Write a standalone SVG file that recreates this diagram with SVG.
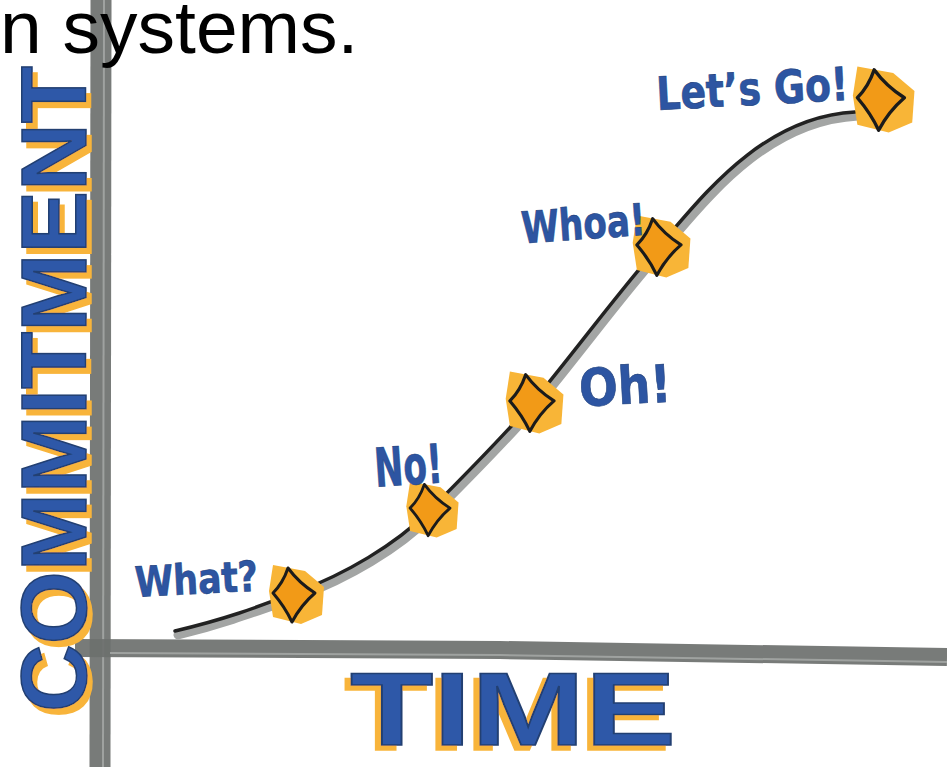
<svg xmlns="http://www.w3.org/2000/svg" width="947" height="767" viewBox="0 0 947 767">
<style>
.lbl{font-family:"DejaVu Sans Condensed","Liberation Sans",sans-serif;font-weight:bold;fill:#2D55A2;stroke:#24447f;stroke-width:0.6}
.big{font-family:"Liberation Sans","DejaVu Sans",sans-serif;font-weight:bold;fill:#2F59A8;stroke:#223f72;stroke-width:1.5;filter:url(#shadow)}
.axis{stroke:#6c706e;stroke-linecap:butt;fill:none}
.axhl{stroke:#a9acaa;stroke-width:2;fill:none;opacity:0.8}
</style>
<defs>
<filter id="shadow" x="-10%" y="-10%" width="120%" height="120%">
<feFlood flood-color="#F8B43A" result="f"/>
<feComposite in="f" in2="SourceAlpha" operator="in" result="o"/>
<feOffset in="o" dx="-6" dy="5" result="s"/>
<feMerge><feMergeNode in="s"/><feMergeNode in="SourceGraphic"/></feMerge>
</filter>
<g id="dm">
<path d="M-22,-30 L10,-24 L29,-8 L27,20 L6,29 L-22,22 L-26,-4 Z" fill="#F8B537"/>
<path d="M-7,-27 Q4,-12 20,-2 Q6,10 -3,27 Q-10,12 -22,-2 Q-12,-12 -7,-27 Z" fill="#F29A17" stroke="#1b1b1b" stroke-width="3" stroke-linejoin="round"/>
</g>
</defs>
<rect width="947" height="767" fill="#ffffff"/>

<g id="axes">
<path class="axis" d="M101,0 L100,767" stroke-width="21" opacity="0.92"/>
<path class="axhl" d="M104,0 L103,767"/>
<path class="axis" d="M75,648 L500,650 L947,657" stroke-width="18" opacity="0.92"/>
<path class="axhl" d="M110,653 L500,655 L947,662"/>
</g>

<g id="axis-labels">
<text id="commitment" class="big" font-size="92" textLength="646" lengthAdjust="spacingAndGlyphs" transform="translate(86,712) rotate(-90)">COMMITMENT</text>
<text id="time" class="big" x="350" y="745" font-size="104" textLength="326" lengthAdjust="spacingAndGlyphs">TIME</text>
</g>

<g id="connectors">
<path d="M178,635 C230,622 260,610 300,596 C348,578 398,549 431,516 C468,479 503,444 536,406 C583,349 623,294 663,249 C703,204 763,121 858,116" fill="none" stroke="#a3a5a4" stroke-width="9" stroke-linecap="round"/>
<path d="M175,631 C230,618 260,606 297,592 C345,574 395,545 428,512 C465,475 500,440 533,402 C580,345 620,290 660,245 C700,200 760,117 855,112" fill="none" stroke="#222" stroke-width="3.5" stroke-linecap="round"/>
</g>

<g id="node-what">
<use href="#dm" transform="translate(295,595)"/>
<text class="lbl" x="135" y="594" font-size="42" textLength="123" lengthAdjust="spacingAndGlyphs" transform="rotate(-3 195 580)">What?</text>
</g>
<g id="node-no">
<use href="#dm" transform="translate(431,510) scale(0.95)"/>
<text class="lbl" x="374" y="485" font-size="54" textLength="68" lengthAdjust="spacingAndGlyphs" transform="rotate(-4 405 460)">No!</text>
</g>
<g id="node-oh">
<use href="#dm" transform="translate(533,403) scale(1.05)"/>
<text class="lbl" x="579" y="404" font-size="52" textLength="92" lengthAdjust="spacingAndGlyphs" transform="rotate(-3 625 385)">Oh!</text>
</g>
<g id="node-whoa">
<use href="#dm" transform="translate(660,247) scale(1.05)"/>
<text class="lbl" x="521" y="239" font-size="44" textLength="124" lengthAdjust="spacingAndGlyphs" transform="rotate(-4 585 220)">Whoa!</text>
</g>
<g id="node-letsgo">
<use href="#dm" transform="translate(882,100) scale(1.12)"/>
<text class="lbl" x="656" y="105" font-size="46" textLength="192" lengthAdjust="spacingAndGlyphs" transform="rotate(-3 750 85)">Let’s Go!</text>
</g>

<text x="0" y="53" font-family="Liberation Sans, Arial, sans-serif" font-size="75" fill="#000">n systems.</text>
</svg>
